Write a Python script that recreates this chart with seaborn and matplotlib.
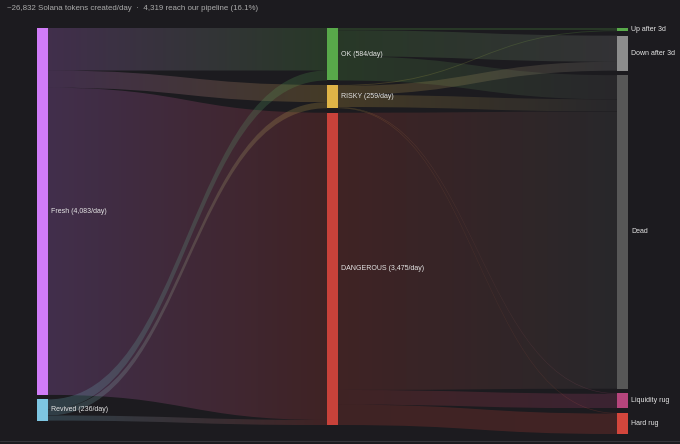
import numpy as np
import matplotlib
matplotlib.use('Agg')
import matplotlib.pyplot as plt
from matplotlib.path import Path
from matplotlib.patches import PathPatch
import seaborn as sns

# --- data ---
title = '~26,832 Solana tokens created/day  ·  4,319 reach our pipeline (16.1%)'

nodes = ['Fresh', 'Revived', 'OK', 'RISKY', 'DANGEROUS',
         'Up after 3d', 'Down after 3d', 'Dead', 'Liquidity rug', 'Hard rug']
node_col = [0, 0, 1, 1, 1, 2, 2, 2, 2, 2]
node_labels = ['Fresh (4,083/day)', 'Revived (236/day)', 'OK (584/day)', 'RISKY (259/day)',
               'DANGEROUS (3,475/day)', 'Up after 3d', 'Down after 3d', 'Dead',
               'Liquidity rug', 'Hard rug']
node_colors = ['#d07cf7', '#7ec6e2', '#58a94a', '#dfb447', '#c8423a',
               '#58a94a', '#8c8c8c', '#575757', '#b5457c', '#d3463c']

link_src = ['Fresh', 'Fresh', 'Fresh', 'Revived', 'Revived', 'Revived',
            'OK', 'OK', 'OK',
            'RISKY', 'RISKY', 'RISKY', 'RISKY', 'RISKY',
            'DANGEROUS', 'DANGEROUS', 'DANGEROUS']
link_tgt = ['OK', 'RISKY', 'DANGEROUS', 'OK', 'RISKY', 'DANGEROUS',
            'Up after 3d', 'Down after 3d', 'Dead',
            'Up after 3d', 'Down after 3d', 'Dead', 'Liquidity rug', 'Hard rug',
            'Dead', 'Liquidity rug', 'Hard rug']
link_val = [473, 191, 3419, 111, 68, 57,
            25, 290, 269,
            10, 100, 135, 7, 7,
            3085, 163, 227]

# --- layout ---
bg = '#1c1b1f'
sns.set_style('dark', {'axes.facecolor': bg, 'figure.facecolor': bg})
plt.rcParams['font.family'] = ['Liberation Sans', 'DejaVu Sans']

W, H = 680, 444
top, bottom = 28, 434
node_w = 11
pad = 4.5
col_x = [37, 327, 617]

n_in = {n: 0 for n in nodes}
n_out = {n: 0 for n in nodes}
for s, t, v in zip(link_src, link_tgt, link_val):
    n_out[s] += v
    n_in[t] += v
node_val = {n: max(n_in[n], n_out[n]) for n in nodes}

# one scale for every column, like d3-sankey
ky = min((bottom - top - pad * (node_col.count(c) - 1)) /
         sum(node_val[n] for n, cc in zip(nodes, node_col) if cc == c) for c in range(3))

y0 = {}
x0 = {}
for c in range(3):
    y = top
    for n, cc in zip(nodes, node_col):
        if cc == c:
            y0[n] = y
            x0[n] = col_x[c]
            y += node_val[n] * ky + pad

fig = plt.figure(figsize=(W / 100, H / 100), dpi=100)
ax = fig.add_axes([0, 0, 1, 1])
ax.set_facecolor(bg)

# link offsets: sorted by the other end's position
idx = list(range(len(link_val)))
src_off = {}
for n in nodes:
    off = y0[n]
    for i in sorted([i for i in idx if link_src[i] == n], key=lambda i: y0[link_tgt[i]]):
        src_off[i] = off
        off += link_val[i] * ky
tgt_off = {}
for n in nodes:
    off = y0[n]
    for i in sorted([i for i in idx if link_tgt[i] == n], key=lambda i: y0[link_src[i]]):
        tgt_off[i] = off
        off += link_val[i] * ky

color_of = dict(zip(nodes, node_colors))
for i in idx:
    s, t = link_src[i], link_tgt[i]
    sx = x0[s] + node_w
    tx = x0[t]
    h = link_val[i] * ky
    sy0, sy1 = src_off[i], src_off[i] + h
    ty0, ty1 = tgt_off[i], tgt_off[i] + h
    xm = (sx + tx) / 2
    verts = [(sx, sy0), (xm, sy0), (xm, ty0), (tx, ty0),
             (tx, ty1), (xm, ty1), (xm, sy1), (sx, sy1), (sx, sy0)]
    codes = [Path.MOVETO, Path.CURVE4, Path.CURVE4, Path.CURVE4,
             Path.LINETO, Path.CURVE4, Path.CURVE4, Path.CURVE4, Path.CLOSEPOLY]
    patch = PathPatch(Path(verts, codes), fc='none', ec='none')
    ax.add_patch(patch)
    # gradient from source colour to target colour
    grad = np.array(sns.blend_palette([color_of[s], color_of[t]], 64))
    img = np.zeros((1, 64, 4))
    img[0, :, :3] = grad
    img[0, :, 3] = 0.21
    im = ax.imshow(img, extent=(sx, tx, max(sy1, ty1), min(sy0, ty0)),
                   aspect='auto', interpolation='bilinear', zorder=1)
    im.set_clip_path(patch)

# nodes
for n, lab in zip(nodes, node_labels):
    h = node_val[n] * ky
    ax.bar(x0[n], h, bottom=y0[n], width=node_w, align='edge',
           color=color_of[n], edgecolor='none', zorder=3)
    ax.text(x0[n] + node_w + 3, y0[n] + h / 2, lab, va='center', ha='left',
            fontsize=5, color='#e6e6e6', zorder=4)

ax.text(7, 8.5, title, va='center', ha='left', fontsize=5.7, color='#ababab')
ax.axhline(441, color='#36353a', lw=0.8)

ax.set_xlim(0, W)
ax.set_ylim(H, 0)
ax.axis('off')
fig.savefig('out.png', dpi=100, facecolor=bg)
